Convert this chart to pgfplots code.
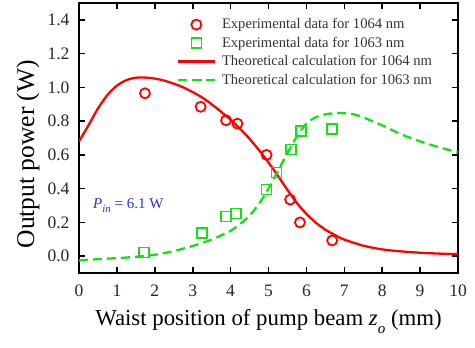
\documentclass[border=0pt]{standalone}
\usepackage{pgfplots}
\pgfplotsset{compat=1.18}
\usepackage{fontspec}
\setmainfont{Liberation Serif}
\definecolor{myred}{RGB}{255,0,0}
\definecolor{mygreen}{RGB}{20,225,20}
\definecolor{myblue}{RGB}{45,45,215}
\begin{document}
\begin{tikzpicture}
\begin{axis}[
  scale only axis, width=379bp, height=270bp,
  xmin=0, xmax=10, ymin=-0.1, ymax=1.5,
  xtick={0,1,...,10},
  xticklabels={0,1,2,3,4,5,6,7,8,9,10},
  ytick={0,0.2,0.4,0.6,0.8,1.0,1.2,1.4},
  yticklabels={0.0,0.2,0.4,0.6,0.8,1.0,1.2,1.4},
  tick align=inside,
  major tick length=6bp,
  major tick style={line width=1.6bp, black},
  axis line style={line width=2bp},
  tick label style={font=\rmfamily\fontsize{17.5bp}{20bp}\selectfont, text=black!85},
  yticklabel style={xshift=-6bp},
  xticklabel style={yshift=-8.5bp},
  xlabel={Waist position of pump beam \textit{z}\raisebox{-0.38em}{\fontsize{15bp}{15bp}\selectfont\textit{o}} (mm)},
  xlabel style={at={(axis description cs:0.5,-0.193)}, anchor=base, font=\fontsize{22.8bp}{26bp}\selectfont},
  ylabel={Output power (W)},
  ylabel style={at={(axis description cs:-0.1346,0.44)}, anchor=center, font=\fontsize{25.5bp}{29bp}\selectfont},
  legend image code/.code={\draw[mark repeat=2,mark phase=2,#1] plot coordinates {(0bp,0bp) (18bp,0bp) (36bp,0bp)};},
  legend style={at={(axis cs:2.586,1.428)}, anchor=north west, draw=none, fill=none, inner sep=0pt,
    font=\fontsize{14.6bp}{17bp}\selectfont, text=black!80,
    nodes={text height=11.3bp, text depth=3.2bp, inner sep=2bp},
    /tikz/every odd column/.append style={column sep=4.5bp}},
  legend cell align=left,
]
\addplot[only marks, mark=o, mark size=5bp, myred, line width=1.8bp] coordinates {
(1.74,0.965) (3.21,0.885) (3.88,0.805) (4.18,0.785) (4.95,0.600) (5.57,0.335) (5.83,0.200) (6.68,0.093)};
\addlegendentry{Experimental data for 1064 nm}
\addplot[only marks, mark=square, mark size=5bp, mygreen, line width=1.6bp] coordinates {
(1.72,0.022) (3.24,0.136) (3.88,0.235) (4.15,0.252) (4.95,0.395) (5.21,0.495) (5.59,0.632) (5.85,0.740) (6.68,0.755)};
\addlegendentry{Experimental data for 1063 nm}
\addplot[smooth, no marks, myred, line width=2.3bp] coordinates {
(0.0,0.68) (0.25,0.775) (0.5,0.875) (0.75,0.955) (1.0,1.010) (1.25,1.043) (1.5,1.057) (1.75,1.058)
(2.0,1.052) (2.25,1.040) (2.5,1.022) (2.75,1.000) (3.0,0.972) (3.25,0.940) (3.5,0.900) (3.75,0.855)
(4.0,0.808) (4.25,0.755) (4.5,0.695) (4.75,0.628) (5.0,0.555) (5.25,0.475) (5.5,0.392) (5.75,0.315)
(6.0,0.250) (6.25,0.198) (6.5,0.157) (6.75,0.125) (7.0,0.098) (7.5,0.062) (8.0,0.040) (8.5,0.028)
(9.0,0.020) (9.5,0.015) (10.0,0.012)};
\addlegendentry{Theoretical calculation for 1064 nm}
\addplot[smooth, no marks, mygreen, line width=2.3bp, dash pattern=on 9bp off 5bp] coordinates {
(0.0,-0.026) (0.5,-0.018) (1.0,-0.012) (1.5,-0.004) (2.0,0.008) (2.5,0.030) (3.0,0.060) (3.5,0.098)
(4.0,0.150) (4.25,0.190) (4.5,0.240) (4.75,0.310) (5.0,0.400) (5.25,0.505) (5.5,0.610) (5.75,0.710)
(6.0,0.785) (6.25,0.823) (6.5,0.840) (6.75,0.847) (7.0,0.847) (7.25,0.840) (7.5,0.822) (8.0,0.775)
(8.5,0.722) (9.0,0.680) (9.5,0.645) (10.0,0.615)};
\addlegendentry{Theoretical calculation for 1063 nm}
\node[anchor=base west, inner sep=0pt, text=myblue, font=\fontsize{15bp}{17bp}\selectfont] at (axis cs:0.37,0.283)
  {\textit{P}\raisebox{-0.3em}{\fontsize{11bp}{11bp}\selectfont\textit{in}} = 6.1 W};
\end{axis}
\pgfresetboundingbox
\path[use as bounding box] ([shift={(-79bp,-75bp)}]current axis.south west) rectangle ([shift={(17bp,3bp)}]current axis.north east);
\end{tikzpicture}
\end{document}
